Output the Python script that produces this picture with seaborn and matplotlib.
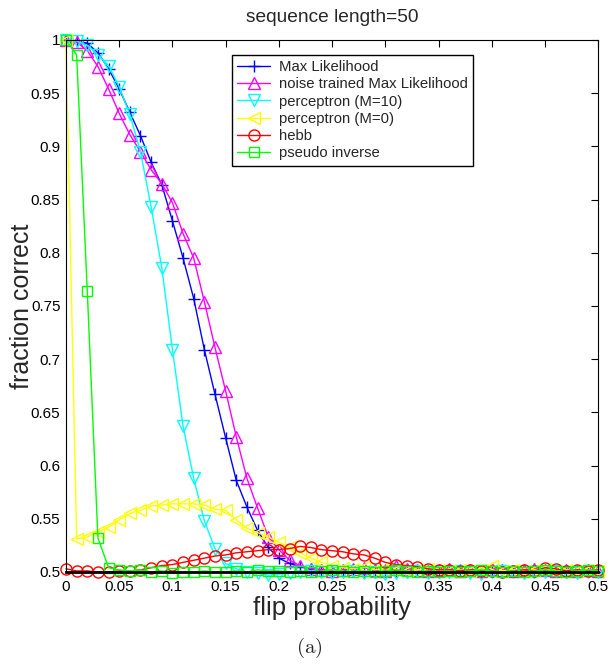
import matplotlib
matplotlib.use('Agg')
import matplotlib.pyplot as plt
import seaborn as sns

# x: flip probability, one point every 0.01
flip_prob = [0.00, 0.01, 0.02, 0.03, 0.04, 0.05, 0.06, 0.07, 0.08, 0.09,
             0.10, 0.11, 0.12, 0.13, 0.14, 0.15, 0.16, 0.17, 0.18, 0.19,
             0.20, 0.21, 0.22, 0.23, 0.24, 0.25, 0.26, 0.27, 0.28, 0.29,
             0.30, 0.31, 0.32, 0.33, 0.34, 0.35, 0.36, 0.37, 0.38, 0.39,
             0.40, 0.41, 0.42, 0.43, 0.44, 0.45, 0.46, 0.47, 0.48, 0.49, 0.50]

max_lik = [1.000, 0.999, 0.997, 0.988, 0.973, 0.954, 0.932, 0.910, 0.885, 0.864,
           0.830, 0.795, 0.757, 0.709, 0.667, 0.626, 0.586, 0.561, 0.539, 0.523,
           0.513, 0.508, 0.505, 0.503, 0.502, 0.501, 0.502, 0.501, 0.500, 0.501,
           0.502, 0.501, 0.500, 0.501, 0.501, 0.500, 0.501, 0.502, 0.501, 0.500,
           0.501, 0.500, 0.501, 0.500, 0.500, 0.501, 0.501, 0.500, 0.501, 0.501, 0.500]

noise_ml = [1.000, 0.998, 0.990, 0.975, 0.954, 0.931, 0.911, 0.895, 0.878, 0.865,
            0.847, 0.818, 0.795, 0.754, 0.711, 0.670, 0.627, 0.588, 0.560, 0.533,
            0.521, 0.511, 0.506, 0.503, 0.502, 0.501, 0.502, 0.503, 0.504, 0.502,
            0.501, 0.506, 0.503, 0.502, 0.501, 0.502, 0.503, 0.501, 0.502, 0.501,
            0.503, 0.502, 0.501, 0.502, 0.503, 0.502, 0.501, 0.502, 0.501, 0.502, 0.501]

perc_m10 = [1.000, 0.999, 0.995, 0.986, 0.976, 0.956, 0.930, 0.895, 0.843, 0.786,
            0.709, 0.637, 0.588, 0.548, 0.522, 0.508, 0.503, 0.500, 0.499, 0.497,
            0.498, 0.499, 0.500, 0.501, 0.500, 0.499, 0.500, 0.501, 0.499, 0.500,
            0.498, 0.499, 0.500, 0.501, 0.499, 0.500, 0.500, 0.501, 0.499, 0.498,
            0.500, 0.501, 0.500, 0.499, 0.500, 0.500, 0.501, 0.500, 0.499, 0.500, 0.500]

perc_m0 = [1.000, 0.531, 0.533, 0.538, 0.542, 0.549, 0.555, 0.558, 0.562, 0.563,
           0.564, 0.564, 0.564, 0.563, 0.559, 0.558, 0.549, 0.541, 0.537, 0.533,
           0.528, 0.523, 0.518, 0.513, 0.509, 0.506, 0.504, 0.503, 0.505, 0.502,
           0.503, 0.502, 0.501, 0.502, 0.503, 0.502, 0.501, 0.502, 0.501, 0.502,
           0.506, 0.501, 0.502, 0.501, 0.502, 0.503, 0.501, 0.502, 0.501, 0.502, 0.501]

hebb = [0.503, 0.501, 0.501, 0.500, 0.500, 0.501, 0.501, 0.502, 0.504, 0.506,
        0.507, 0.509, 0.511, 0.513, 0.515, 0.516, 0.518, 0.519, 0.520, 0.521,
        0.521, 0.522, 0.524, 0.523, 0.521, 0.520, 0.519, 0.517, 0.516, 0.513,
        0.509, 0.507, 0.506, 0.505, 0.503, 0.502, 0.502, 0.501, 0.502, 0.501,
        0.501, 0.500, 0.501, 0.502, 0.501, 0.504, 0.503, 0.501, 0.502, 0.501, 0.502]

pseudo_inv = [1.000, 0.986, 0.764, 0.532, 0.504, 0.502, 0.501, 0.502, 0.500, 0.501,
              0.499, 0.500, 0.500, 0.501, 0.500, 0.500, 0.501, 0.500, 0.502, 0.501,
              0.501, 0.500, 0.501, 0.500, 0.501, 0.502, 0.501, 0.500, 0.501, 0.500,
              0.501, 0.502, 0.501, 0.500, 0.501, 0.500, 0.501, 0.500, 0.501, 0.502,
              0.501, 0.500, 0.501, 0.500, 0.501, 0.502, 0.501, 0.500, 0.501, 0.502, 0.501]

series = [
    ('Max Likelihood', max_lik, '#0000ff', '+'),
    ('noise trained Max Likelihood', noise_ml, '#ff00ff', '^'),
    ('perceptron (M=10)', perc_m10, '#00ffff', 'v'),
    ('perceptron (M=0)', perc_m0, '#ffff00', '<'),
    ('hebb', hebb, '#ff0000', 'o'),
    ('pseudo inverse', pseudo_inv, '#00ff00', 's'),
]

sns.set_style('white')
plt.rcParams['font.family'] = ['Liberation Sans', 'DejaVu Sans']
plt.rcParams['mathtext.fontset'] = 'cm'

fig = plt.figure(figsize=(6.11, 6.64), dpi=100)
ax = fig.add_axes([0.108, 0.1386, 0.871, 0.8012])

for name, vals, col, mk in series:
    ms = 6.5 if mk == 's' else 8
    sns.lineplot(x=flip_prob, y=vals, ax=ax, color=col, marker=mk,
                 markersize=ms, markerfacecolor='none', markeredgecolor=col,
                 markeredgewidth=1.0, linewidth=1.0, label=name, clip_on=False)

ax.set_xlim(0, 0.5)
ax.set_ylim(0.5, 1)
xt = [0, 0.05, 0.1, 0.15, 0.2, 0.25, 0.3, 0.35, 0.4, 0.45, 0.5]
yt = [0.5, 0.55, 0.6, 0.65, 0.7, 0.75, 0.8, 0.85, 0.9, 0.95, 1]
ax.set_xticks(xt)
ax.set_xticklabels(['0', '0.05', '0.1', '0.15', '0.2', '0.25', '0.3', '0.35', '0.4', '0.45', '0.5'])
ax.set_yticks(yt)
ax.set_yticklabels(['0.5', '0.55', '0.6', '0.65', '0.7', '0.75', '0.8', '0.85', '0.9', '0.95', '1'])
ax.tick_params(direction='in', length=5, width=0.8, top=True, right=True,
               labelsize=11, colors='black')
ax.tick_params(axis='x', pad=6)
ax.tick_params(axis='y', pad=4)
for s in ax.spines.values():
    s.set_color('black')
    s.set_linewidth(0.8)
ax.spines['bottom'].set_linewidth(2.0)

ax.set_title('sequence length=50', fontsize=13.8, pad=13)
ax.set_xlabel('flip probability', fontsize=18.5, labelpad=1)
ax.set_ylabel('fraction correct', fontsize=18, labelpad=-2)

leg = ax.legend(loc='upper left', bbox_to_anchor=(0.312, 0.972), fontsize=10.7,
                frameon=True, fancybox=False, edgecolor='black', framealpha=1,
                handlelength=2.2, handletextpad=0.6, labelspacing=0.22,
                borderpad=0.35, borderaxespad=0)
leg.get_frame().set_linewidth(1.0)

fig.text(0.506, 0.006, r'$\mathrm{(a)}$', fontsize=15, ha='center', va='bottom')

fig.savefig('out.png', dpi=100)
